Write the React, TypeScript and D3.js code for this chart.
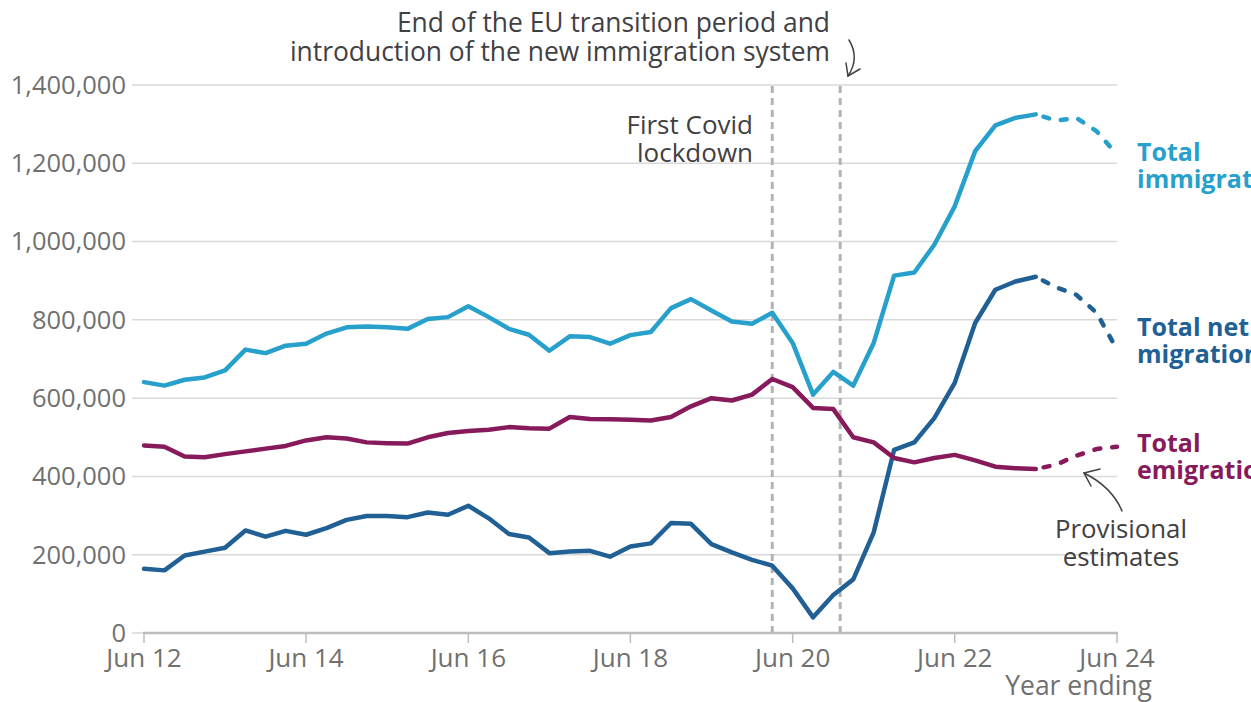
import React from "react";
import * as d3 from "d3";

// quarterly "year ending" points, Jun 2012 to Jun 2024
const quarters = d3.timeMonths(new Date(2012, 5, 1), new Date(2024, 6, 1), 3);

// thousands
const immigration = [641, 632, 647, 653, 671, 724, 715, 734, 739, 765, 781, 783, 781, 777, 802, 807, 835, 807, 777, 762, 721, 758, 756, 739, 761, 769, 830, 853, 824, 796, 790, 818, 741, 609, 667, 632, 741, 913, 921, 992, 1090, 1231, 1297, 1316, 1325, 1309, 1316, 1282, 1222];
const netMigration = [164, 160, 198, 208, 218, 262, 246, 261, 251, 268, 289, 299, 299, 296, 308, 302, 325, 293, 253, 244, 204, 208, 210, 195, 221, 229, 281, 279, 227, 206, 187, 172, 114, 40, 97, 137, 257, 468, 487, 549, 639, 792, 877, 898, 910, 883, 864, 818, 724];
const emigration = [479, 476, 451, 449, 457, 464, 471, 478, 492, 500, 497, 487, 485, 484, 500, 511, 516, 519, 526, 523, 522, 552, 547, 546, 545, 543, 552, 579, 600, 594, 609, 649, 628, 575, 572, 500, 487, 447, 436, 447, 455, 441, 425, 421, 419, 430, 453, 470, 476];

// provisional estimates start after this index
const provisionalFrom = 44;

const yTicks = [0, 200000, 400000, 600000, 800000, 1000000, 1200000, 1400000];
const xTicks = [2012, 2014, 2016, 2018, 2020, 2022, 2024].map((y) => new Date(y, 5, 1));

const lockdownDate = new Date(2020, 2, 1);
const euExitDate = new Date(2021, 0, 1);

const series = [
  { name: ["Total", "immigration"], values: immigration, color: "#27a0cc", labelY: 161 },
  { name: ["Total net", "migration"], values: netMigration, color: "#206095", labelY: 336 },
  { name: ["Total", "emigration"], values: emigration, color: "#871a5b", labelY: 452 },
];

const W = 1251;
const H = 702;
const font = "'Open Sans', sans-serif";

export default function App() {
  const x = d3.scaleTime()
    .domain([new Date(2012, 5, 1), new Date(2024, 5, 1)])
    .range([144, 1117]);
  const y = d3.scaleLinear().domain([0, 1400000]).range([633, 85]);

  const line = d3.line<number>()
    .x((d, i) => x(quarters[i]))
    .y((d) => y(d * 1000));

  const solidPath = (vals: number[]) => line(vals.slice(0, provisionalFrom + 1));

  const dashedPath = (vals: number[]) =>
    d3.line<number>()
      .x((d, i) => x(quarters[i + provisionalFrom]))
      .y((d) => y(d * 1000))(vals.slice(provisionalFrom));

  return (
    <svg width={W} height={H} style={{ position: "absolute", left: 0, top: 0 }} fontFamily={font}>
      {/* gridlines + y labels */}
      {yTicks.map((t) => (
        <g key={t}>
          <line x1={132} x2={1117} y1={y(t)} y2={y(t)} stroke="#d9d9d9" strokeWidth={1.5} />
          <text x={126} y={y(t)} dy="0.35em" textAnchor="end" fontSize={25.5} fill="#707070">
            {d3.format(",")(t)}
          </text>
        </g>
      ))}

      {/* x axis */}
      <line x1={143} x2={1118} y1={633} y2={633} stroke="#bdbdbd" strokeWidth={2.5} />
      {xTicks.map((t) => (
        <g key={+t}>
          <line x1={x(t)} x2={x(t)} y1={633} y2={643} stroke="#bdbdbd" strokeWidth={1.5} />
          <text x={x(t)} y={667} textAnchor="middle" fontSize={26} fill="#707070">
            {d3.timeFormat("Jun %y")(t)}
          </text>
        </g>
      ))}
      <text x={1152} y={695} textAnchor="end" fontSize={26.5} fill="#707070">Year ending</text>

      {/* event markers */}
      {[lockdownDate, euExitDate].map((d) => (
        <line key={+d} x1={x(d)} x2={x(d)} y1={86} y2={632} stroke="#b3b3b3" strokeWidth={3} strokeDasharray="7 5" />
      ))}
      <text textAnchor="end" fontSize={26} fill="#414042">
        <tspan x={753} y={134}>First Covid</tspan>
        <tspan x={753} y={162}>lockdown</tspan>
      </text>
      <text textAnchor="end" fontSize={26.4} fill="#414042">
        <tspan x={830} y={32}>End of the EU transition period and</tspan>
        <tspan x={830} y={61}>introduction of the new immigration system</tspan>
      </text>
      <g fill="none" stroke="#414042" strokeWidth={1.5} strokeLinecap="round">
        <path d="M849,40 Q860,58 848,76" />
        <path d="M846,63 L848,76 L860,69" />
      </g>

      {/* series */}
      {series.map((s) => (
        <g key={s.color}>
          <path d={solidPath(s.values) || ""} fill="none" stroke={s.color} strokeWidth={4.5} strokeLinejoin="round" strokeLinecap="round" />
          <path d={dashedPath(s.values) || ""} fill="none" stroke={s.color} strokeWidth={4.5} strokeLinejoin="round" strokeLinecap="round" strokeDasharray="6 12" strokeDashoffset={-8} />
          <text fontSize={25} fontWeight="bold" fill={s.color}>
            <tspan x={1137} y={s.labelY}>{s.name[0]}</tspan>
            <tspan x={1137} y={s.labelY + 27}>{s.name[1]}</tspan>
          </text>
        </g>
      ))}

      {/* provisional note */}
      <g fill="none" stroke="#414042" strokeWidth={1.5} strokeLinecap="round">
        <path d="M1122,511 Q1112,487 1084,473" />
        <path d="M1100,469 L1084,473 L1091,486" />
      </g>
      <text textAnchor="middle" fontSize={25.8} fill="#414042">
        <tspan x={1121} y={538}>Provisional</tspan>
        <tspan x={1121} y={566}>estimates</tspan>
      </text>
    </svg>
  );
}
